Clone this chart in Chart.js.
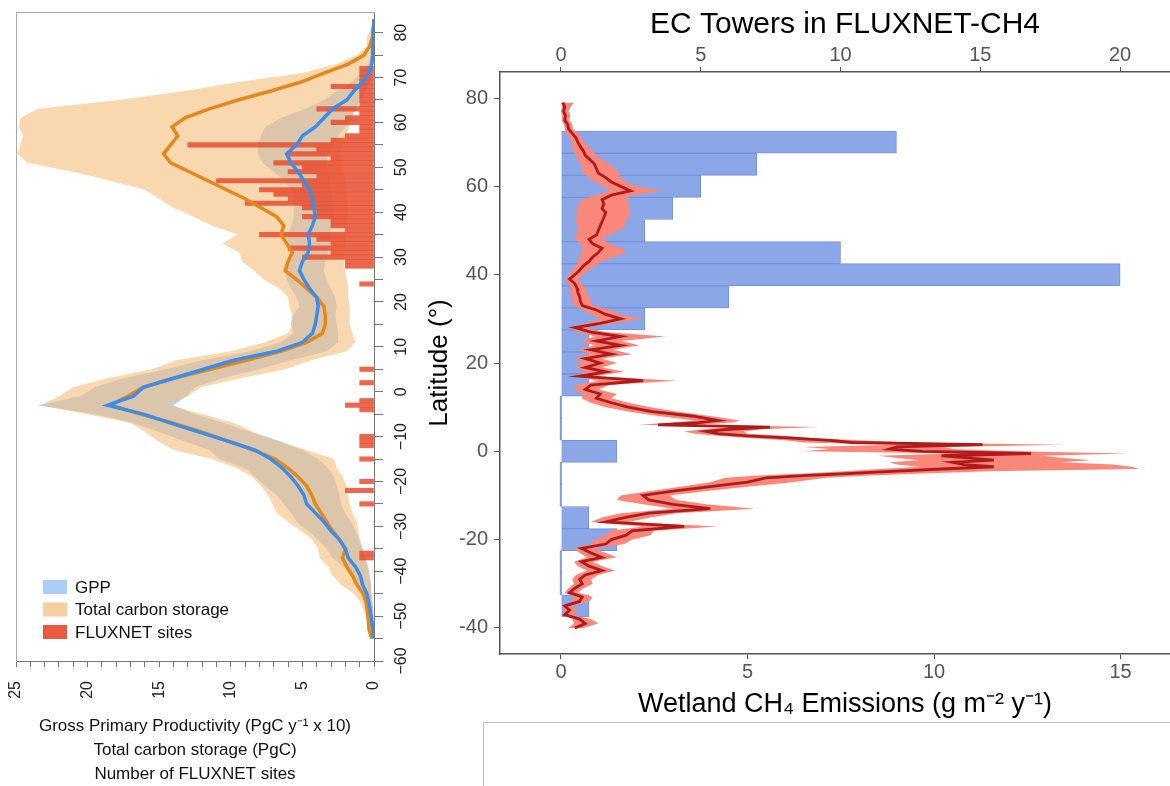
<!DOCTYPE html>
<html>
<head>
<meta charset="utf-8">
<script src="https://cdn.jsdelivr.net/npm/chart.js@4.4.1/dist/chart.umd.min.js"></script>
<style>
  html, body { margin: 0; padding: 0; background: #fff; overflow: hidden; }
  body { width: 1170px; height: 786px; position: relative; }
  #leftBox { position: absolute; left: 0; top: 0; width: 420px; height: 786px; }
  #rightBox { position: absolute; left: 420px; top: 0; width: 790px; height: 786px; }
  #blank { position: absolute; left: 483px; top: 722px; width: 720px; height: 100px; border: 1px solid #c2c2c2; background: #fff; }
</style>
</head>
<body>
<div id="leftBox"><canvas id="leftChart" width="420" height="786"></canvas></div>
<div id="rightBox"><canvas id="rightChart" width="790" height="786"></canvas></div>
<div id="blank"></div>
<script>
// ---- left panel: latitudinal profiles ----
var latLeft = [83, 81, 79, 77, 75, 73, 71, 69, 67, 65, 63, 61, 59, 57, 55, 53, 51, 49, 47, 45,
  43, 41, 39, 37, 35, 33, 31, 29, 27, 25, 23, 21, 19, 17, 15, 13, 11, 9, 7, 5,
  3, 1, -1, -3, -5, -7, -9, -11, -13, -15, -17, -19, -21, -23, -25, -27, -29, -31, -33, -35,
  -37, -39, -41, -43, -45, -47, -49, -51, -53, -55];
var gppLine = [0.0, 0.02, 0.05, 0.08, 0.1, 0.15, 0.35, 0.8, 1.4, 1.9, 2.9, 3.5, 4.1, 5.0, 5.4, 6.1, 5.8, 5.3, 4.9, 4.5,
  4.3, 4.2, 4.1, 4.3, 4.6, 4.5, 4.6, 5.0, 5.2, 4.9, 4.5, 4.0, 3.9, 4.0, 4.1, 4.3, 5.0, 6.8, 9.8, 11.9,
  14.0, 16.1, 16.8, 18.6, 16.1, 14.2, 12.2, 10.2, 8.3, 7.2, 6.4, 5.8, 5.3, 4.9, 4.7, 4.1, 3.5, 3.0, 2.4, 2.0,
  1.8, 1.3, 0.95, 0.8, 0.5, 0.35, 0.25, 0.15, 0.08, 0.05];
var gppUpper = [0.05, 0.05, 0.1, 0.15, 0.2, 0.4, 0.9, 1.6, 2.6, 3.5, 4.8, 6.5, 7.6, 7.9, 8.1, 8.1, 7.8, 7.0, 6.3, 5.8,
  5.6, 5.6, 5.6, 5.8, 6.0, 6.1, 5.9, 6.1, 6.2, 6.1, 5.8, 5.4, 5.2, 5.7, 5.8, 5.6, 6.5, 8.6, 12.0, 14.5,
  17.5, 19.5, 20.5, 23.5, 19.5, 16.8, 15.0, 13.3, 11.5, 10.8, 9.0, 8.3, 7.6, 6.8, 6.3, 5.8, 5.4, 4.6, 3.9, 3.3,
  2.9, 2.1, 1.6, 1.3, 0.9, 0.6, 0.4, 0.3, 0.15, 0.1];
var gppLower = [0, 0, 0, 0.02, 0.03, 0.05, 0.1, 0.3, 0.6, 0.9, 1.3, 1.6, 2.0, 2.5, 2.8, 3.2, 3.3, 3.2, 3.1, 3.0,
  2.9, 2.9, 2.8, 2.9, 3.1, 3.0, 3.2, 3.4, 3.5, 3.3, 3.0, 2.7, 2.6, 2.7, 2.6, 2.5, 2.5, 3.3, 5.8, 8.0,
  10.6, 12.5, 13.1, 14.0, 12.5, 10.5, 8.6, 6.6, 5.0, 3.9, 3.2, 2.8, 2.6, 2.4, 2.3, 2.0, 1.6, 1.3, 1.0, 0.8,
  0.6, 0.4, 0.3, 0.2, 0.15, 0.1, 0.05, 0.03, 0.02, 0];
var tcsLine = [0.0, 0.05, 0.1, 0.3, 0.7, 1.8, 3.5, 5.1, 7.2, 9.5, 11.5, 13.2, 14.1, 13.7, 14.2, 14.7, 14.2, 12.9, 11.6, 10.3,
  9.0, 7.9, 6.8, 6.3, 6.5, 6.1, 5.7, 6.0, 6.2, 5.4, 4.7, 4.0, 3.5, 3.4, 3.4, 3.6, 4.7, 6.5, 8.9, 11.4,
  14.0, 16.1, 17.2, 18.4, 16.3, 14.0, 12.0, 10.2, 8.4, 6.9, 6.0, 5.3, 4.7, 4.35, 4.1, 3.7, 3.3, 2.9, 2.4, 2.0,
  2.2, 1.9, 1.5, 1.2, 0.75, 0.55, 0.45, 0.4, 0.35, 0.15];
var tcsUpper = [0.1, 0.2, 0.5, 0.5, 1.2, 2.6, 5.0, 9.5, 13.2, 17.8, 23.5, 24.7, 24.8, 24.5, 24.7, 24.9, 24.2, 21.0, 18.4, 16.0,
  15.0, 14.0, 12.6, 11.3, 9.5, 10.6, 9.4, 9.2, 8.4, 7.7, 6.6, 6.0, 5.9, 5.7, 5.7, 6.0, 7.6, 10.0, 13.8, 15.5,
  18.6, 21.0, 22.0, 23.3, 20.0, 17.0, 16.0, 15.1, 14.0, 11.3, 9.6, 8.5, 7.9, 7.4, 7.1, 6.8, 6.0, 5.1, 4.3, 3.9,
  3.8, 3.2, 2.9, 2.3, 1.4, 0.9, 0.7, 0.5, 0.4, 0.2];
var tcsLower = [0, 0, 0, 0.05, 0.1, 0.2, 0.3, 0.5, 0.8, 1.0, 1.3, 1.5, 1.7, 2.0, 2.2, 2.4, 2.3, 2.1, 2.0, 1.9,
  1.9, 1.8, 1.8, 1.9, 2.0, 2.0, 2.1, 2.1, 2.0, 1.9, 1.8, 1.8, 1.7, 1.7, 1.7, 1.5, 1.3, 1.9, 4.4, 6.2,
  9.3, 12.1, 13.0, 14.4, 11.9, 9.8, 8.4, 6.8, 4.7, 2.8, 2.6, 2.2, 1.9, 1.8, 1.7, 1.5, 1.2, 1.1, 1.0, 0.8,
  0.6, 0.5, 0.3, 0.2, 0.15, 0.1, 0.05, 0.05, 0.02, 0];
var fluxLat = [72, 71, 70, 69, 68, 67, 66, 65, 64, 63, 62, 61, 60, 59, 58, 57, 56, 55, 54, 53,
  52, 51, 50, 49, 48, 47, 46, 45, 44, 43, 42, 41, 40, 39, 38, 37, 36, 35, 34, 33,
  32, 31, 30, 29, 28, 24, 5, 2, -2, -3, -4, -10, -11, -12, -15, -20, -22, -25, -36, -37];
var fluxSites = [1, 1, 1, 1, 3, 1, 1, 1, 1, 4, 1, 2, 3, 1, 1, 2, 3, 13, 4, 6,
  3, 7, 5, 6, 4, 11, 5, 8, 7, 6, 9, 5, 4, 5, 3, 3, 2, 8, 4, 3,
  6, 3, 5, 2, 2, 1, 1, 1, 1, 2, 1, 1, 1, 1, 1, 1, 2, 1, 1, 1];
var legendLabels = ['GPP', 'Total carbon storage', 'FLUXNET sites'];
var valueTicks = [0, 1, 2, 3, 4, 5, 6, 7, 8, 9, 10, 11, 12, 13, 14, 15, 16, 17, 18, 19, 20, 21, 22, 23, 24, 25];
var latTicks = [-60, -55, -50, -45, -40, -35, -30, -25, -20, -15, -10, -5, 0, 5, 10, 15, 20, 25, 30, 35, 40, 45, 50, 55, 60, 65, 70, 75, 80];

// ---- right panel: FLUXNET-CH4 ----
var ch4Lat = [79, 78, 77, 76, 75, 74, 73, 72, 71, 70, 69, 68, 67, 66, 65, 64, 63, 62, 61, 60,
  59, 58, 57, 56, 55, 54, 53, 52, 51, 50, 49, 48, 47, 46, 45, 44, 43, 42, 41, 40,
  39, 38, 37, 36, 35, 34, 33, 32, 31, 30, 29, 28, 27, 26, 25, 24, 23, 22, 21, 20,
  19, 18, 17, 16, 15, 14, 13, 12, 11, 10, 9, 8, 7, 6.5, 6, 5.5, 5, 4.5, 4, 3.5,
  3, 2.5, 2, 1.5, 1, 0.5, 0, -0.5, -1, -1.5, -2, -2.5, -3, -3.5, -4, -4.5, -5, -5.5, -6, -7,
  -8, -9, -10, -11, -12, -13, -14, -15, -16, -17, -18, -19, -20, -21, -22, -23, -24, -25, -26, -27,
  -28, -29, -30, -31, -32, -33, -34, -35, -36, -37, -38, -39, -40];
var ch4Mean = [0.05, 0.1, 0.07, 0.12, 0.1, 0.18, 0.2, 0.3, 0.4, 0.45, 0.52, 0.6, 0.65, 0.78, 0.9, 0.95, 1.0, 1.2, 1.35, 1.6,
  1.86, 1.35, 1.1, 1.15, 1.1, 1.2, 1.15, 1.1, 1.05, 1.0, 0.95, 0.75, 0.85, 1.1, 1.0, 0.85, 0.75, 0.6, 0.5, 0.37,
  0.23, 0.37, 0.43, 0.45, 0.5, 0.52, 0.57, 0.95, 1.2, 1.6, 1.05, 0.37, 0.8, 1.6, 0.95, 1.6, 0.8, 1.35, 0.65, 1.05,
  0.65, 1.2, 0.5, 2.2, 0.8, 0.65, 1.05, 0.95, 1.35, 1.8, 2.45, 3.5, 4.2, 3.7, 2.6, 5.6, 4.5, 3.9, 4.2, 5.0,
  6.2, 7.2, 7.8, 11.3, 9.0, 8.8, 9.7, 12.6, 10.2, 10.9, 11.6, 10.5, 10.8, 11.6, 10.2, 9.0, 7.8, 6.5, 5.5, 5.0,
  4.0, 3.0, 2.2, 2.35, 3.0, 4.0, 2.35, 1.7, 1.2, 3.3, 1.9, 1.75, 1.35, 1.2, 0.55, 0.8, 1.09, 0.55, 0.75, 1.1,
  0.65, 0.5, 0.57, 0.37, 0.23, 0.57, 0.5, 0.1, 0.23, 0.1, 0.5, 0.65, 0.37];
var ch4Lower = [0.0, 0.02, 0.0, 0.03, 0.02, 0.08, 0.1, 0.15, 0.25, 0.28, 0.3, 0.35, 0.4, 0.45, 0.55, 0.55, 0.6, 0.75, 0.9, 1.15,
  1.3, 0.95, 0.55, 0.5, 0.4, 0.45, 0.4, 0.4, 0.45, 0.45, 0.4, 0.4, 0.5, 0.6, 0.55, 0.5, 0.45, 0.4, 0.3, 0.22,
  0.12, 0.2, 0.25, 0.25, 0.3, 0.3, 0.35, 0.6, 0.8, 1.05, 0.7, 0.2, 0.45, 0.9, 0.5, 0.9, 0.45, 0.8, 0.35, 0.6,
  0.35, 0.7, 0.3, 1.0, 0.4, 0.35, 0.6, 0.55, 0.8, 1.2, 1.8, 2.6, 3.6, 3.0, 2.1, 4.6, 3.8, 3.3, 3.6, 4.2,
  5.0, 6.0, 6.5, 9.0, 6.5, 7.2, 6.5, 10.5, 8.5, 9.0, 9.6, 8.8, 9.0, 9.6, 8.5, 7.6, 6.5, 5.3, 4.4, 4.0,
  3.2, 2.4, 1.6, 1.5, 2.2, 3.0, 1.6, 1.1, 0.8, 2.2, 1.3, 1.2, 0.9, 0.8, 0.35, 0.5, 0.7, 0.35, 0.45, 0.7,
  0.4, 0.3, 0.35, 0.2, 0.1, 0.35, 0.3, 0.03, 0.1, 0.03, 0.3, 0.35, 0.2];
var ch4Upper = [0.35, 0.25, 0.2, 0.25, 0.22, 0.3, 0.32, 0.45, 0.55, 0.62, 0.75, 0.85, 0.95, 1.1, 1.3, 1.45, 1.55, 1.6, 1.75, 2.0,
  2.75, 1.9, 1.75, 1.8, 1.85, 1.85, 1.8, 1.75, 1.7, 1.55, 1.3, 1.1, 1.3, 1.65, 1.75, 1.4, 1.1, 0.9, 0.75, 0.6,
  0.45, 0.55, 0.65, 0.7, 0.75, 0.8, 0.85, 1.3, 1.6, 2.2, 1.4, 0.65, 1.2, 2.8, 1.6, 2.1, 1.4, 1.9, 1.1, 1.5,
  1.1, 1.7, 0.9, 3.1, 1.3, 1.0, 1.5, 1.35, 1.8, 2.4, 3.1, 4.0, 4.8, 4.6, 3.6, 6.9, 5.4, 4.9, 5.0, 6.0,
  6.7, 8.0, 9.3, 13.5, 10.3, 10.5, 12.2, 15.2, 12.9, 13.5, 14.2, 13.4, 14.8, 15.3, 15.5, 11.5, 9.7, 8.3, 7.1, 6.2,
  5.0, 3.9, 2.9, 3.1, 3.9, 5.2, 3.1, 2.4, 1.8, 4.2, 2.5, 2.4, 1.9, 1.7, 0.9, 1.2, 1.5, 0.85, 1.1, 1.45,
  1.0, 0.8, 0.85, 0.6, 0.45, 0.85, 0.75, 0.3, 0.45, 0.3, 0.8, 1.0, 0.6];
var towerLat = [70, 65, 60, 55, 50, 45, 40, 35, 30, 25, 20, 15, 10, 5, 0, -5, -10, -15, -20, -25, -30, -35];
var towerCount = [12, 7, 5, 4, 3, 10, 20, 6, 3, 1, 1, 1, 0, 0, 2, 0, 0, 1, 2, 0, 0, 1];
var ch4Ticks = [0, 5, 10, 15];
var towerTicks = [0, 5, 10, 15, 20];
var latRightTicks = [-40, -20, 0, 20, 40, 60, 80];

Chart.defaults.font.family = "'Liberation Sans', Arial, Helvetica, sans-serif";

function pairs(values, lats) {
  return values.map(function (v, i) { return { x: v, y: lats[i] }; });
}
function useTicks(values) {
  return function (scale) {
    scale.ticks = values.map(function (v) { return { value: v }; });
  };
}
// fixed axis box sizes so the plot areas sit where the figure has them
function sized(w, h) {
  return function (scale) {
    if (w !== null) scale.width = w;
    if (h !== null) scale.height = h;
    scale.paddingLeft = scale.paddingRight = scale.paddingTop = scale.paddingBottom = 0;
  };
}

var bandBlue = 'rgba(125,175,238,0.55)';
var bandTan = 'rgba(245,188,118,0.58)';
var fluxRed = 'rgba(232,78,48,0.85)';

var insideLegend = {
  id: 'insideLegend',
  afterDraw: function (chart) {
    var ctx = chart.ctx, area = chart.chartArea;
    var swatches = ['rgb(172,206,246)', 'rgb(246,206,160)', 'rgb(232,90,62)'];
    var offsets = [-74, -51.5, -29];
    ctx.save();
    ctx.font = "17px 'Liberation Sans', Arial, sans-serif";
    ctx.textBaseline = 'middle';
    for (var i = 0; i < legendLabels.length; i++) {
      var y = area.bottom + offsets[i];
      ctx.fillStyle = swatches[i];
      ctx.fillRect(area.left + 27, y - 7, 24, 14);
      ctx.fillStyle = '#111';
      ctx.fillText(legendLabels[i], area.left + 59, y + 1);
    }
    ctx.restore();
  }
};

var barDefaults = { bar: { barPercentage: 1, categoryPercentage: 1, grouped: false } };

new Chart(document.getElementById('leftChart'), {
  type: 'line',
  data: {
    datasets: [
      { label: 'GPP', data: pairs(gppLine, latLeft), indexAxis: 'y', borderColor: '#3b8de9', borderWidth: 3.5, pointRadius: 0, fill: false, order: 1 },
      { label: 'Total carbon storage', data: pairs(tcsLine, latLeft), indexAxis: 'y', borderColor: '#e5881c', borderWidth: 3.5, pointRadius: 0, fill: false, order: 1 },
      { type: 'bar', label: 'FLUXNET sites', data: pairs(fluxSites, fluxLat), indexAxis: 'y', backgroundColor: fluxRed, borderWidth: 0,
        barPercentage: 1, categoryPercentage: 1, grouped: false, order: 2 },
      { label: 'TCS upper', data: pairs(tcsUpper, latLeft), indexAxis: 'y', borderWidth: 0, pointRadius: 0, backgroundColor: bandTan, fill: '+1', order: 3 },
      { label: 'TCS lower', data: pairs(tcsLower, latLeft), indexAxis: 'y', borderWidth: 0, pointRadius: 0, fill: false, order: 3 },
      { label: 'GPP upper', data: pairs(gppUpper, latLeft), indexAxis: 'y', borderWidth: 0, pointRadius: 0, backgroundColor: bandBlue, fill: '+1', order: 4 },
      { label: 'GPP lower', data: pairs(gppLower, latLeft), indexAxis: 'y', borderWidth: 0, pointRadius: 0, fill: false, order: 4 }
    ]
  },
  options: {
    responsive: false,
    animation: false,
    events: [],
    datasets: barDefaults,
    layout: { padding: { left: 16, top: 12, right: 0, bottom: 0 }, autoPadding: false },
    plugins: { legend: { display: false }, tooltip: { enabled: false } },
    scales: {
      x: {
        type: 'linear', position: 'bottom', reverse: true, min: 0, max: 25, offset: false,
        afterBuildTicks: useTicks(valueTicks), afterFit: sized(null, 125),
        grid: { drawOnChartArea: false, offset: false, tickLength: 6, color: '#777' },
        border: { color: '#777', width: 1 },
        ticks: {
          autoSkip: false, minRotation: 90, maxRotation: 90, padding: 14, color: '#222', font: { size: 16 },
          callback: function (v) { return v % 5 === 0 ? String(v) : ''; }
        },
        title: {
          display: true, color: '#111', font: { size: 17, lineHeight: 24 / 17 }, padding: { top: 0, bottom: 0 },
          text: ['Gross Primary Productivity (PgC y\u207B\u00B9 x 10)', 'Total carbon storage (PgC)', 'Number of FLUXNET sites']
        }
      },
      y: {
        type: 'linear', position: 'right', min: -60, max: 84.6, offset: false,
        afterBuildTicks: useTicks(latTicks), afterFit: sized(46, null),
        grid: { drawOnChartArea: false, offset: false, tickLength: 9, color: '#777' },
        border: { color: '#777', width: 1 },
        ticks: {
          autoSkip: false, minRotation: 90, maxRotation: 90, crossAlign: 'center', padding: 5, color: '#222', font: { size: 16 },
          callback: function (v) { return v % 10 === 0 ? String(v).replace('-', '\u2212') : ''; }
        }
      },
      xTop: {
        type: 'linear', position: 'top', display: true, min: 0, max: 25, offset: false, afterFit: sized(null, 0),
        grid: { display: false, drawTicks: false, offset: false }, ticks: { display: false }, border: { color: '#a8a8a8', width: 1 }
      },
      yLeft: {
        type: 'linear', position: 'left', display: true, min: -60, max: 84.6, offset: false, afterFit: sized(0, null),
        grid: { display: false, drawTicks: false, offset: false }, ticks: { display: false }, border: { color: '#a8a8a8', width: 1 }
      }
    }
  },
  plugins: [insideLegend]
});

new Chart(document.getElementById('rightChart'), {
  type: 'line',
  data: {
    datasets: [
      { label: 'Wetland CH4 emissions', data: pairs(ch4Mean, ch4Lat), indexAxis: 'y', xAxisID: 'x', yAxisID: 'y', borderColor: '#b11a1a', borderWidth: 2.8, pointRadius: 0, fill: false, order: 1 },
      { label: 'upper', data: pairs(ch4Upper, ch4Lat), indexAxis: 'y', xAxisID: 'x', yAxisID: 'y', borderWidth: 0, pointRadius: 0, backgroundColor: '#f9877a', fill: '+1', order: 2 },
      { label: 'lower', data: pairs(ch4Lower, ch4Lat), indexAxis: 'y', xAxisID: 'x', yAxisID: 'y', borderWidth: 0, pointRadius: 0, fill: false, order: 2 },
      { type: 'bar', label: 'EC towers', data: pairs(towerCount, towerLat), indexAxis: 'y', xAxisID: 'x2', yAxisID: 'y',
        backgroundColor: '#8ca7e7', borderColor: '#7592dd', borderWidth: 1, barPercentage: 1, categoryPercentage: 1, grouped: false,
        minBarLength: 2, order: 3 }
    ]
  },
  options: {
    responsive: false,
    animation: false,
    events: [],
    datasets: barDefaults,
    layout: { padding: { left: 0, right: 20, top: 0, bottom: 62 }, autoPadding: false },
    plugins: {
      legend: { display: false },
      tooltip: { enabled: false },
      title: { display: true, fullSize: false, text: 'EC Towers in FLUXNET-CH4', color: '#000', font: { size: 30, weight: 'normal' }, padding: { top: 7, bottom: 0 } }
    },
    scales: {
      x: {
        type: 'linear', position: 'bottom', min: -1.635, max: 16.86, offset: false,
        afterBuildTicks: useTicks(ch4Ticks), afterFit: sized(null, 70),
        grid: { drawOnChartArea: false, offset: false, tickLength: 5, color: '#555' },
        border: { color: '#555', width: 1.5 },
        ticks: { autoSkip: false, maxRotation: 0, padding: 1, color: '#555', font: { size: 20 } },
        title: { display: true, text: 'Wetland CH\u2084 Emissions (g m\u207B\u00B2 y\u207B\u00B9)', color: '#000', font: { size: 27 }, padding: { top: 0, bottom: 3 } }
      },
      x2: {
        type: 'linear', position: 'top', min: -2.18, max: 22.5, offset: false,
        afterBuildTicks: useTicks(towerTicks), afterFit: sized(null, 29),
        grid: { drawOnChartArea: false, offset: false, tickLength: 5, color: '#555' },
        border: { color: '#555', width: 1.5 },
        ticks: { autoSkip: false, maxRotation: 0, padding: 0, color: '#555', font: { size: 20 } }
      },
      y: {
        type: 'linear', position: 'left', min: -45.9, max: 85.9, offset: false,
        afterBuildTicks: useTicks(latRightTicks), afterFit: sized(80, null),
        grid: { drawOnChartArea: false, offset: false, tickLength: 6, color: '#555' },
        border: { color: '#555', width: 1.5 },
        ticks: { autoSkip: false, padding: 6, color: '#555', font: { size: 20 } },
        title: { display: true, text: 'Latitude (\u00B0)', color: '#000', font: { size: 26 }, padding: { top: 4, bottom: 0 } }
      }
    }
  }
});
</script>
</body>
</html>
